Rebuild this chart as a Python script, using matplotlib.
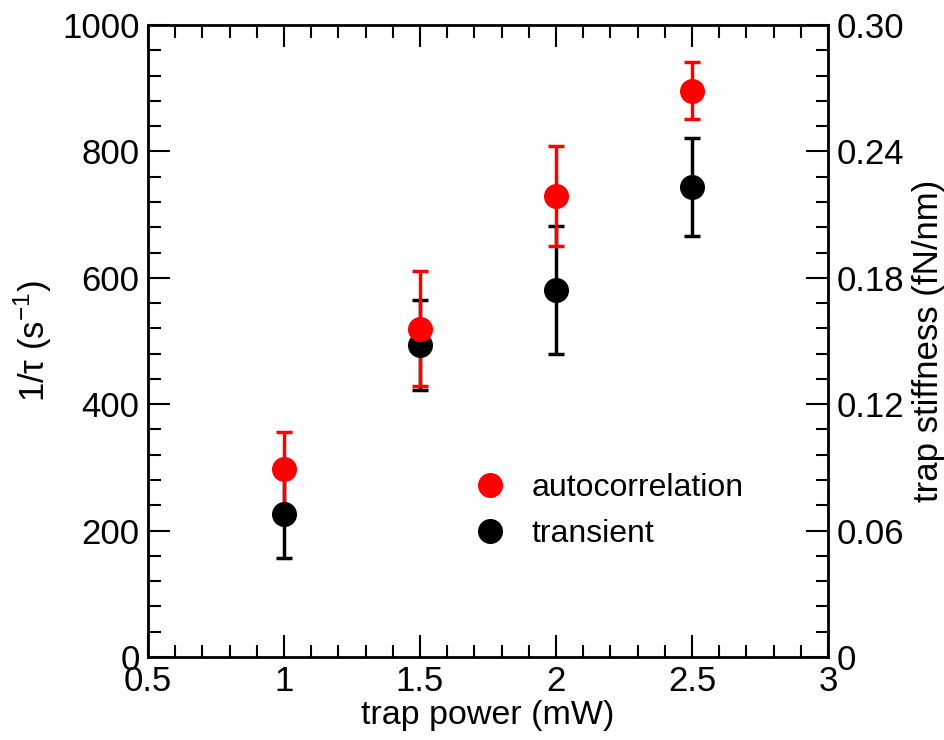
import numpy as np
import matplotlib.pyplot as plt
from matplotlib.ticker import MultipleLocator, FixedLocator

plt.rcParams['font.family'] = ['Liberation Sans', 'DejaVu Sans']

power = [1.0, 1.5, 2.0, 2.5]
auto_rate = [297, 519, 729, 896]
auto_err = [59, 91, 79, 45]
trans_rate = [226, 494, 581, 744]
trans_err = [69, 71, 101, 78]

left_ticks = [0, 200, 400, 600, 800, 1000]
right_ticks = [0, 0.06, 0.12, 0.18, 0.24, 0.30]
right_labels = ['0', '0.06', '0.12', '0.18', '0.24', '0.30']
x_ticks = [0.5, 1, 1.5, 2, 2.5, 3]
x_labels = ['0.5', '1', '1.5', '2', '2.5', '3']

fig = plt.figure(figsize=(9.45, 7.4), dpi=100)
ax = fig.add_axes([0.1566, 0.1122, 0.7196, 0.8540])

ax.errorbar(power, trans_rate, yerr=trans_err, fmt='none', ecolor='black',
            elinewidth=2.5, capsize=6, capthick=2.5, zorder=2)
ax.errorbar(power, auto_rate, yerr=auto_err, fmt='none', ecolor='red',
            elinewidth=2.5, capsize=6, capthick=2.5, zorder=3)
ax.plot(power, trans_rate, 'o', color='black', markersize=17, label='transient', zorder=4)
ax.plot(power, auto_rate, 'o', color='red', markersize=17, label='autocorrelation', zorder=5)

ax.set_xlim(0.5, 3)
ax.set_ylim(0, 1000)
ax.xaxis.set_major_locator(FixedLocator(x_ticks))
ax.set_xticklabels(x_labels)
ax.xaxis.set_minor_locator(MultipleLocator(0.1))
ax.yaxis.set_major_locator(FixedLocator(left_ticks))
ax.yaxis.set_minor_locator(MultipleLocator(40))
ax.tick_params(which='both', direction='in', top=True, right=False, labelsize=25, width=1.5, pad=6)
ax.tick_params(which='major', length=16)
ax.tick_params(which='minor', length=9)
for s in ax.spines.values():
    s.set_linewidth(2)

ax2 = ax.twinx()
ax2.set_ylim(0, 0.30)
ax2.yaxis.set_major_locator(FixedLocator(right_ticks))
ax2.set_yticklabels(right_labels)
ax2.yaxis.set_minor_locator(MultipleLocator(0.012))
ax2.tick_params(which='both', direction='in', labelsize=25, width=1.5, pad=6)
ax2.tick_params(which='major', length=16)
ax2.tick_params(which='minor', length=9)

ax.set_xlabel('trap power (mW)', fontsize=24.5, labelpad=1)
ax.set_ylabel('1/τ (s$^{\\mathregular{-1}}$)', fontsize=25, labelpad=6)
ax2.set_ylabel('trap stiffness (fN/nm)', fontsize=25, labelpad=6)

h, l = ax.get_legend_handles_labels()
ax.legend(h[::-1], l[::-1], loc='lower left', bbox_to_anchor=(0.432, 0.125),
          frameon=False, fontsize=23, handletextpad=0.7, labelspacing=0.5,
          handlelength=1.2)

fig.savefig('out.png', dpi=100)
